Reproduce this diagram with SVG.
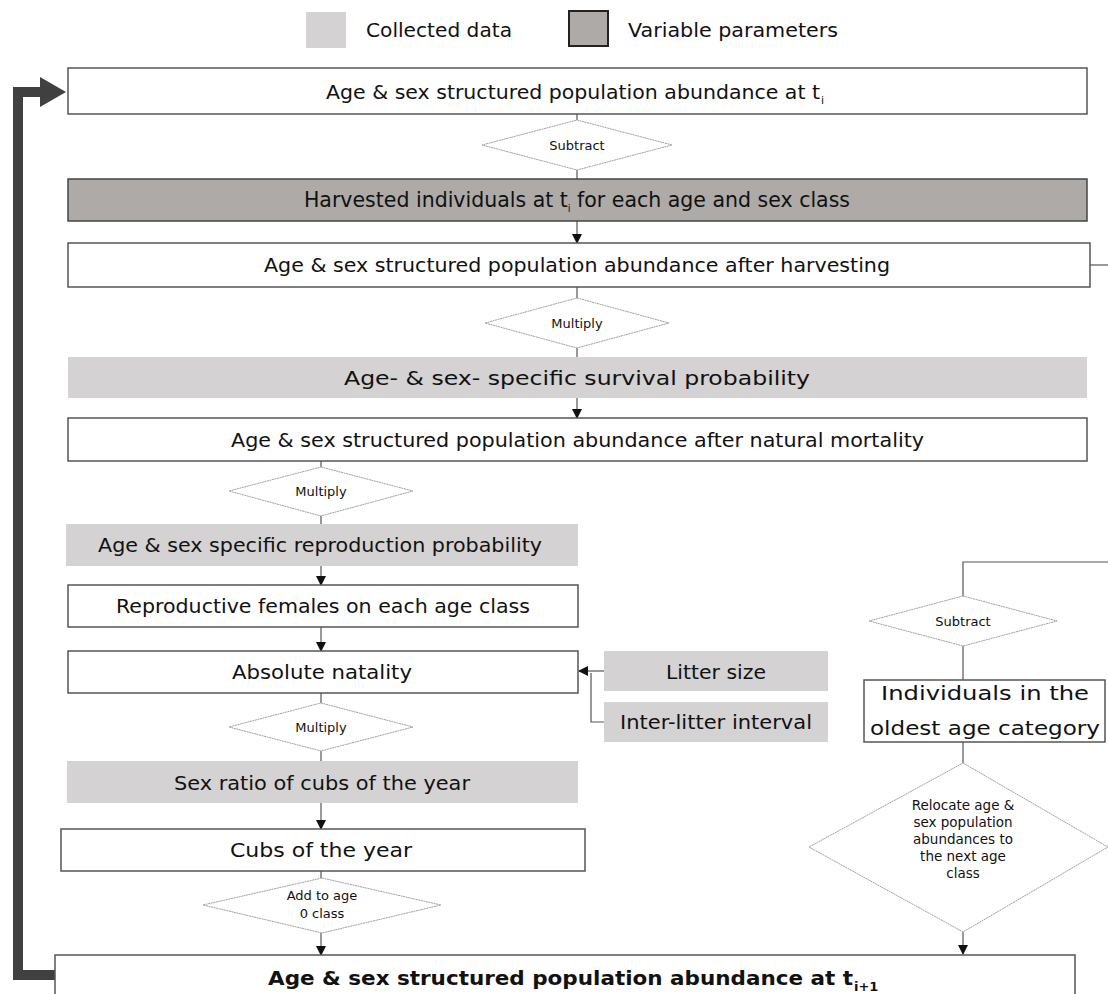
<svg xmlns="http://www.w3.org/2000/svg" width="1108" height="994" viewBox="0 0 1108 994">
<style>
  text { font-family: "DejaVu Sans", "Liberation Sans", sans-serif; fill: #111; }
  .t18 { font-size: 20px; }
  .t20 { font-size: 20px; }
  .t13 { font-size: 13px; }
  .t14 { font-size: 13.5px; }
  .sub { font-size: 11px; }
  .box { fill: #ffffff; stroke: #555; stroke-width: 1.5; }
  .data { fill: #d4d2d2; stroke: none; }
  .var { fill: #adaaa7; stroke: #444; stroke-width: 1.5; }
  .dia { fill: #ffffff; stroke: #a0a0a0; stroke-width: 1; stroke-dasharray: 2 0.6; }
  .ln { fill: none; stroke: #555; stroke-width: 1.2; }
  .thick { fill: none; stroke: #404040; stroke-width: 10; }
</style>
<defs>
  <marker id="arr" markerWidth="10" markerHeight="10" refX="9" refY="5" orient="auto" markerUnits="userSpaceOnUse">
    <path d="M0,0 L10,5 L0,10 Z" fill="#111"/>
  </marker>
</defs>

<g id="legend">
  <rect x="306" y="12" width="40" height="36" class="data"/>
  <text x="366" y="37" class="t18" textLength="146" lengthAdjust="spacingAndGlyphs">Collected data</text>
  <rect x="569" y="11" width="39" height="35" fill="#adaaa7" stroke="#222" stroke-width="2"/>
  <text x="628" y="37" class="t18" textLength="210" lengthAdjust="spacingAndGlyphs">Variable parameters</text>
</g>

<g id="connectors">
  <path class="thick" d="M55,975 H18 V92 H42"/>
  <polygon points="40,77 66,92 40,107" fill="#404040"/>
  <line class="ln" x1="577" y1="114" x2="577" y2="120"/>
  <line class="ln" x1="577" y1="170" x2="577" y2="179"/>
  <line class="ln" x1="577" y1="221" x2="577" y2="243" marker-end="url(#arr)"/>
  <line class="ln" x1="1090" y1="265" x2="1108" y2="265"/>
  <line class="ln" x1="577" y1="287" x2="577" y2="298"/>
  <line class="ln" x1="577" y1="348" x2="577" y2="357"/>
  <line class="ln" x1="577" y1="398" x2="577" y2="418" marker-end="url(#arr)"/>
  <line class="ln" x1="321" y1="461" x2="321" y2="467"/>
  <line class="ln" x1="321" y1="516" x2="321" y2="524"/>
  <line class="ln" x1="321" y1="566" x2="321" y2="585" marker-end="url(#arr)"/>
  <line class="ln" x1="321" y1="627" x2="321" y2="651" marker-end="url(#arr)"/>
  <line class="ln" x1="321" y1="693" x2="321" y2="703"/>
  <line class="ln" x1="321" y1="751" x2="321" y2="761"/>
  <line class="ln" x1="321" y1="803" x2="321" y2="829" marker-end="url(#arr)"/>
  <line class="ln" x1="321" y1="871" x2="321" y2="878"/>
  <line class="ln" x1="321" y1="933" x2="321" y2="955" marker-end="url(#arr)"/>
  <line class="ln" x1="604" y1="671" x2="579" y2="671" marker-end="url(#arr)"/>
  <path class="ln" d="M604,722 H591 V673"/>
  <path class="ln" d="M1108,562 H963 V596"/>
  <line class="ln" x1="963" y1="646" x2="963" y2="680"/>
  <line class="ln" x1="963" y1="742" x2="963" y2="763"/>
  <line class="ln" x1="963" y1="932" x2="963" y2="954" marker-end="url(#arr)"/>
</g>

<g id="n-top">
  <rect x="68" y="68" width="1019" height="46" class="box"/>
  <text x="326" y="99" class="t18" textLength="494" lengthAdjust="spacingAndGlyphs">Age &amp; sex structured population abundance at t</text>
  <text x="821" y="104" class="sub">i</text>
</g>

<g id="d-subtract1">
  <polygon points="577,120 672,145 577,170 482,145" class="dia"/>
  <text x="577" y="150" class="t13" text-anchor="middle">Subtract</text>
</g>

<g id="n-harvest">
  <rect x="68" y="179" width="1019" height="42" class="var"/>
  <text x="577" y="207" font-size="20.5" text-anchor="middle">Harvested individuals at t<tspan font-size="10" dy="5">i</tspan><tspan dy="-5"> for each age and sex class</tspan></text>
</g>

<g id="n-afterharvest">
  <rect x="68" y="243" width="1022" height="44" class="box"/>
  <text x="264" y="272" class="t18" textLength="626" lengthAdjust="spacingAndGlyphs">Age &amp; sex structured population abundance after harvesting</text>
</g>

<g id="d-multiply1">
  <polygon points="577,298 669,323 577,348 485,323" class="dia"/>
  <text x="577" y="328" class="t13" text-anchor="middle">Multiply</text>
</g>

<g id="n-survival">
  <rect x="68" y="357" width="1019" height="41" class="data"/>
  <text x="344" y="385" class="t18" textLength="466" lengthAdjust="spacingAndGlyphs">Age- &amp; sex- specific survival probability</text>
</g>

<g id="n-mortality">
  <rect x="68" y="418" width="1019" height="43" class="box"/>
  <text x="231" y="447" class="t18" textLength="693" lengthAdjust="spacingAndGlyphs">Age &amp; sex structured population abundance after natural mortality</text>
</g>

<g id="d-multiply2">
  <polygon points="321,467 413,491 321,516 229,491" class="dia"/>
  <text x="321" y="496" class="t13" text-anchor="middle">Multiply</text>
</g>

<g id="n-repro">
  <rect x="66" y="524" width="512" height="42" class="data"/>
  <text x="98" y="552" class="t18" textLength="444" lengthAdjust="spacingAndGlyphs">Age &amp; sex specific reproduction probability</text>
</g>

<g id="n-females">
  <rect x="68" y="585" width="510" height="42" class="box"/>
  <text x="116" y="613" class="t18" textLength="414" lengthAdjust="spacingAndGlyphs">Reproductive females on each age class</text>
</g>

<g id="n-natality">
  <rect x="68" y="651" width="510" height="42" class="box"/>
  <text x="232" y="679" class="t18" textLength="180" lengthAdjust="spacingAndGlyphs">Absolute natality</text>
</g>

<g id="n-litter">
  <rect x="604" y="651" width="224" height="40" class="data"/>
  <text x="666" y="679" class="t18" textLength="100" lengthAdjust="spacingAndGlyphs">Litter size</text>
</g>

<g id="n-interlitter">
  <rect x="604" y="702" width="224" height="40" class="data"/>
  <text x="620" y="729" class="t18" textLength="192" lengthAdjust="spacingAndGlyphs">Inter-litter interval</text>
</g>

<g id="d-multiply3">
  <polygon points="321,703 413,727 321,751 229,727" class="dia"/>
  <text x="321" y="732" class="t13" text-anchor="middle">Multiply</text>
</g>

<g id="n-sexratio">
  <rect x="67" y="761" width="511" height="42" class="data"/>
  <text x="174" y="790" class="t18" textLength="296" lengthAdjust="spacingAndGlyphs">Sex ratio of cubs of the year</text>
</g>

<g id="n-cubs">
  <rect x="61" y="829" width="524" height="42" class="box"/>
  <text x="230" y="857" class="t18" textLength="182" lengthAdjust="spacingAndGlyphs">Cubs of the year</text>
</g>

<g id="d-addage">
  <polygon points="322,878 441,905 322,933 203,905" class="dia"/>
  <text x="322" y="900" class="t13" text-anchor="middle">Add to age</text>
  <text x="322" y="918" class="t13" text-anchor="middle">0 class</text>
</g>

<g id="d-subtract2">
  <polygon points="963,596 1057,621 963,646 869,621" class="dia"/>
  <text x="963" y="626" class="t13" text-anchor="middle">Subtract</text>
</g>

<g id="n-oldest">
  <rect x="864" y="680" width="241" height="62" class="box"/>
  <text x="985" y="700" class="t20" text-anchor="middle" textLength="208" lengthAdjust="spacingAndGlyphs">Individuals in the</text>
  <text x="985" y="735" class="t20" text-anchor="middle" textLength="230" lengthAdjust="spacingAndGlyphs">oldest age category</text>
</g>

<g id="d-relocate">
  <polygon points="963,763 1108,847 963,932 809,847" class="dia"/>
  <text x="963" y="810" class="t14" text-anchor="middle">Relocate age &amp;</text>
  <text x="963" y="827" class="t14" text-anchor="middle">sex population</text>
  <text x="963" y="844" class="t14" text-anchor="middle">abundances to</text>
  <text x="963" y="861" class="t14" text-anchor="middle">the next age</text>
  <text x="963" y="878" class="t14" text-anchor="middle">class</text>
</g>

<g id="n-final">
  <rect x="55" y="955" width="1020" height="50" class="box"/>
  <text x="268" y="985" class="t18" font-weight="bold" textLength="585" lengthAdjust="spacingAndGlyphs">Age &amp; sex structured population abundance at t</text>
  <text x="854" y="991" font-size="13" font-weight="bold">i+1</text>
</g>
</svg>
